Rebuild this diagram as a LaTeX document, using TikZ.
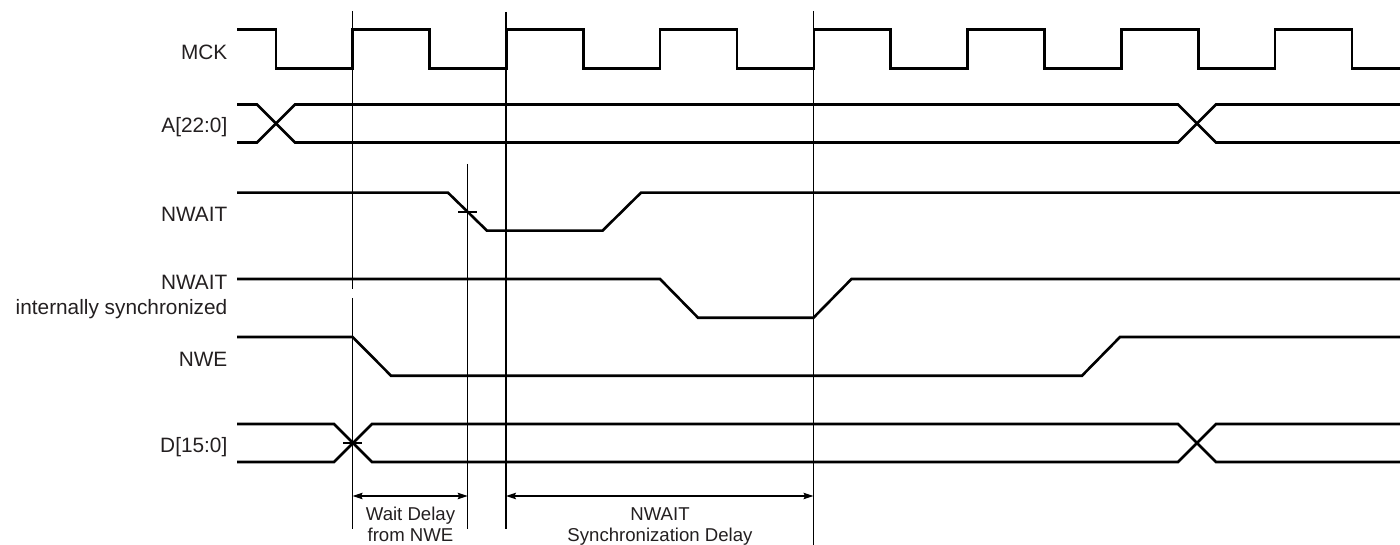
\documentclass[tikz,border=0pt]{standalone}
\usepackage{fontspec}
\setmainfont{Liberation Sans}
\usetikzlibrary{arrows.meta}
\definecolor{txt}{HTML}{231F20}
\tikzset{
  sig/.style={line width=2.6pt, line join=miter, black},
  thin/.style={line width=1.2pt, black},
  dimline/.style={line width=1.2pt, black, {Stealth[length=10pt,width=6.5pt,inset=1.5pt]}-{Stealth[length=10pt,width=6.5pt,inset=1.5pt]}},
  lbl/.style={inner sep=0pt, text=txt, font=\fontsize{20.8pt}{24pt}\selectfont, anchor=base east},
  dlbl/.style={inner sep=0pt, text=txt, font=\fontsize{18.6pt}{22pt}\selectfont, anchor=base}
}
\begin{document}
\begin{tikzpicture}[x=1pt,y=-1pt]
\useasboundingbox (0,0) rectangle (1400,545);
% labels
\node[lbl] (lmck) at (227.5,59.5) {MCK};
\node[lbl] (laddr) at (227.5,133) {A[22:0]};
\node[lbl] (lnwait) at (227.5,221.5) {NWAIT};
\node[lbl] (lnwaits) at (227.5,290) {NWAIT};
\node[lbl] (lint) at (227.5,315) {internally synchronized};
\node[lbl] (lnwe) at (227.5,366) {NWE};
\node[lbl] (ldata) at (227.5,452.5) {D[15:0]};
% MCK
\draw[sig] (237,29.5) -- (276,29.5) -- (276,68.5)
  foreach \k in {0,...,6} {
    -- ({352.6+153.75*\k},68.5) -- ({352.6+153.75*\k},29.5)
    -- ({429.5+153.75*\k},29.5) -- ({429.5+153.75*\k},68.5) }
  -- (1400,68.5);
% A[22:0]
\draw[sig] (237,104.5) -- (257,104.5) -- (295,142.5) -- (1178,142.5) -- (1216,104.5) -- (1400,104.5);
\draw[sig] (237,142.5) -- (257,142.5) -- (295,104.5) -- (1178,104.5) -- (1216,142.5) -- (1400,142.5);
% NWAIT
\draw[sig] (237,192.7) -- (448,192.7) -- (487,230.7) -- (602.5,230.7) -- (641,192.7) -- (1400,192.7);
% NWAIT internally synchronized
\draw[sig] (237,279) -- (660,279) -- (698,317.7) -- (813.5,317.7) -- (851.5,279) -- (1400,279);
% NWE
\draw[sig] (237,337) -- (352.6,337) -- (391,375.7) -- (1082,375.7) -- (1120,337) -- (1400,337);
% D[15:0]
\draw[sig] (237,424) -- (334,424) -- (372,462) -- (1178,462) -- (1216,424) -- (1400,424);
\draw[sig] (237,462) -- (334,462) -- (372,424) -- (1178,424) -- (1216,462) -- (1400,462);
% reference lines
\coordinate (v1t) at (352.6,11);
\coordinate (v1g1) at (352.6,289.5);
\coordinate (v1g2) at (352.6,298);
\coordinate (v1b) at (352.6,529);
\coordinate (v2t) at (467.7,164);
\coordinate (v2b) at (467.7,529);
\coordinate (v3t) at (506,12);
\coordinate (v3b) at (506,529);
\coordinate (v4t) at (813.5,11);
\coordinate (v4b) at (813.5,545);
\draw[thin] (v1t) -- (v1g1);
\draw[thin] (v1g2) -- (v1b);
\draw[thin] (v2t) -- (v2b);
\draw[thin] (v3t) -- (v3b);
\draw[thin] (v4t) -- (v4b);
% ticks
\coordinate (t1a) at (458,212);
\coordinate (t1b) at (477,212);
\coordinate (t2a) at (343,443);
\coordinate (t2b) at (362,443);
\draw[thin] (t1a) -- (t1b);
\draw[thin] (t2a) -- (t2b);
% dimensions
\coordinate (w1) at (352.6,496);
\coordinate (w2) at (467.7,496);
\coordinate (s1) at (506,496);
\coordinate (s2) at (813.5,496);
\draw[dimline] (w1) -- (w2);
\draw[dimline] (s1) -- (s2);
\node[dlbl] (wd1) at (410.5,520) {Wait Delay};
\node[dlbl] (wd2) at (410.5,541.5) {from NWE};
\node[dlbl] (sd1) at (660,520) {NWAIT};
\node[dlbl] (sd2) at (660,541.5) {Synchronization Delay};
\end{tikzpicture}
\end{document}
